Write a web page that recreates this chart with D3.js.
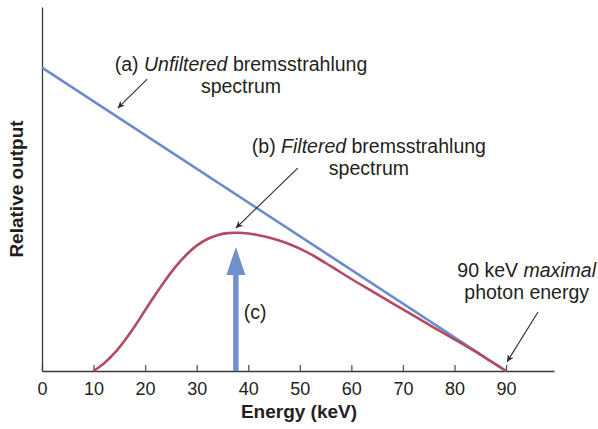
<!DOCTYPE html>
<html>
<head>
<meta charset="utf-8">
<script src="https://cdn.jsdelivr.net/npm/d3@7"></script>
<style>
  html, body { margin: 0; padding: 0; background: #fff; }
  svg { display: block; }
  text { font-family: "Liberation Sans", Arial, Helvetica, sans-serif; fill: #231f20; }
</style>
</head>
<body>
<svg id="chart" width="598" height="429"></svg>
<script>
// Energy axis tick values (keV)
const tickEnergies = [0, 10, 20, 30, 40, 50, 60, 70, 80, 90];

// (a) Unfiltered bremsstrahlung: straight line falling to zero at the 90 keV endpoint
const unfilteredEnergy = [0, 90];
const unfilteredOutput = [90, 0];

// (b) Filtered bremsstrahlung spectrum
const filteredEnergy = [10, 12, 14, 16, 18, 20, 22, 24, 26, 28, 30, 32, 34, 36, 38, 40, 42, 44, 46, 48, 50, 53, 56, 60, 64, 68, 72, 76, 80, 84, 87, 90];
const filteredOutput = [0, 2.2, 5.2, 9.0, 13.3, 18.0, 22.7, 27.1, 31.1, 34.5, 37.2, 39.1, 40.3, 40.9, 41.0, 40.8, 40.3, 39.6, 38.7, 37.6, 36.3, 33.9, 31.1, 27.3, 23.7, 20.1, 16.5, 12.9, 9.4, 5.8, 2.9, 0];

// (c) Average photon energy of the filtered beam
const meanEnergy = 37.6;
const meanArrowTop = 36.8;

// Annotation texts and pointer arrows, positioned in data units (keV, relative output)
const notes = [
  { lines: [["(a) ", false], ["Unfiltered", true], [" bremsstrahlung", false]], second: "spectrum", e: 38.6, v: 89.0 },
  { lines: [["(b) ", false], ["Filtered", true], [" bremsstrahlung", false]], second: "spectrum", e: 63.4, v: 64.7 },
  { lines: [["90 keV ", false], ["maximal", true]], second: "photon energy", e: 94.0, v: 27.9 }
];
const pointers = [
  { e0: 20.4, v0: 86.6, e1: 14.7, v1: 78.0 },
  { e0: 49.6, v0: 60.2, e1: 37.6, v1: 42.4 },
  { e0: 96.2, v0: 17.5, e1: 90.2, v1: 2.7 }
];

const svg = d3.select("#chart");

const x = d3.scaleLinear().domain([0, 99.3]).range([42, 554]);
const y = d3.scaleLinear().domain([0, 108]).range([371, 7]);

const blue = "#6a8bcb";
const red = "#b24b62";
const labelSize = "19.5px";

// Axes
const xAxis = d3.axisBottom(x)
  .tickValues(tickEnergies)
  .tickSizeInner(-6)
  .tickSizeOuter(0)
  .tickPadding(11)
  .tickFormat(d3.format("d"));

const gx = svg.append("g").attr("transform", `translate(0,${y(0)})`).call(xAxis);
gx.select(".domain").attr("stroke", "#3a3a3a").attr("stroke-width", 1.3);
gx.selectAll(".tick line").attr("stroke", "#555").attr("stroke-width", 1.3);
gx.selectAll(".tick text")
  .attr("fill", "#231f20")
  .style("font-family", "'Liberation Sans', Arial, sans-serif")
  .style("font-size", "18px");

const yAxis = d3.axisLeft(y).tickValues([]).tickSizeOuter(0);
const gy = svg.append("g").attr("transform", `translate(${x(0)},0)`).call(yAxis);
gy.select(".domain").attr("stroke", "#3a3a3a").attr("stroke-width", 1.3);

// Axis titles
svg.append("text")
  .attr("x", (x(0) + x(99.3)) / 2 + 1)
  .attr("y", 418)
  .attr("text-anchor", "middle")
  .style("font-size", "19px")
  .style("font-weight", "bold")
  .text("Energy (keV)");

svg.append("text")
  .attr("transform", `translate(23,${(y(0) + y(108)) / 2})rotate(-90)`)
  .attr("text-anchor", "middle")
  .style("font-size", "19px")
  .style("font-weight", "bold")
  .text("Relative output");

// Spectra
const line = d3.line().x(d => x(d[0])).y(d => y(d[1]));

svg.append("path")
  .datum(d3.zip(unfilteredEnergy, unfilteredOutput))
  .attr("fill", "none")
  .attr("stroke", blue)
  .attr("stroke-width", 2.6)
  .attr("d", line);

svg.append("path")
  .datum(d3.zip(filteredEnergy, filteredOutput))
  .attr("fill", "none")
  .attr("stroke", red)
  .attr("stroke-width", 2.6)
  .attr("d", line.curve(d3.curveCatmullRom.alpha(0.5)));

// (c) arrow at the mean energy
{
  const cx = x(meanEnergy);
  const tip = y(meanArrowTop);
  const base = y(0);
  const shaftHalf = 2.7, headHalf = 9.5, headLen = 28;
  const pts = [
    [cx - shaftHalf, base], [cx - shaftHalf, tip + headLen], [cx - headHalf, tip + headLen],
    [cx, tip], [cx + headHalf, tip + headLen], [cx + shaftHalf, tip + headLen], [cx + shaftHalf, base]
  ];
  svg.append("path")
    .attr("d", "M" + pts.map(p => p.join(",")).join("L") + "Z")
    .attr("fill", "#6f8fcd");
  svg.append("text")
    .attr("x", cx + 8)
    .attr("y", y(15.4))
    .style("font-size", labelSize)
    .text("(c)");
}

// Pointer arrows
svg.append("defs").append("marker")
  .attr("id", "head")
  .attr("viewBox", "0 0 10 10")
  .attr("refX", 10).attr("refY", 5)
  .attr("markerWidth", 9).attr("markerHeight", 7)
  .attr("markerUnits", "userSpaceOnUse")
  .attr("orient", "auto")
  .append("path").attr("d", "M0,0L10,5L0,10L3,5Z").attr("fill", "#2b2b2b");

svg.selectAll("line.pointer")
  .data(pointers)
  .join("line")
  .attr("class", "pointer")
  .attr("x1", d => x(d.e0)).attr("y1", d => y(d.v0))
  .attr("x2", d => x(d.e1)).attr("y2", d => y(d.v1))
  .attr("stroke", "#2b2b2b")
  .attr("stroke-width", 1.1)
  .attr("marker-end", "url(#head)");

// Annotation labels
notes.forEach(n => {
  const t = svg.append("text")
    .attr("x", x(n.e))
    .attr("y", y(n.v))
    .attr("text-anchor", "middle")
    .style("font-size", labelSize);
  n.lines.forEach(([s, it]) => {
    t.append("tspan").style("font-style", it ? "italic" : "normal").text(s);
  });
  svg.append("text")
    .attr("x", x(n.e))
    .attr("y", y(n.v) + 22)
    .attr("text-anchor", "middle")
    .style("font-size", labelSize)
    .text(n.second);
});
</script>
</body>
</html>
